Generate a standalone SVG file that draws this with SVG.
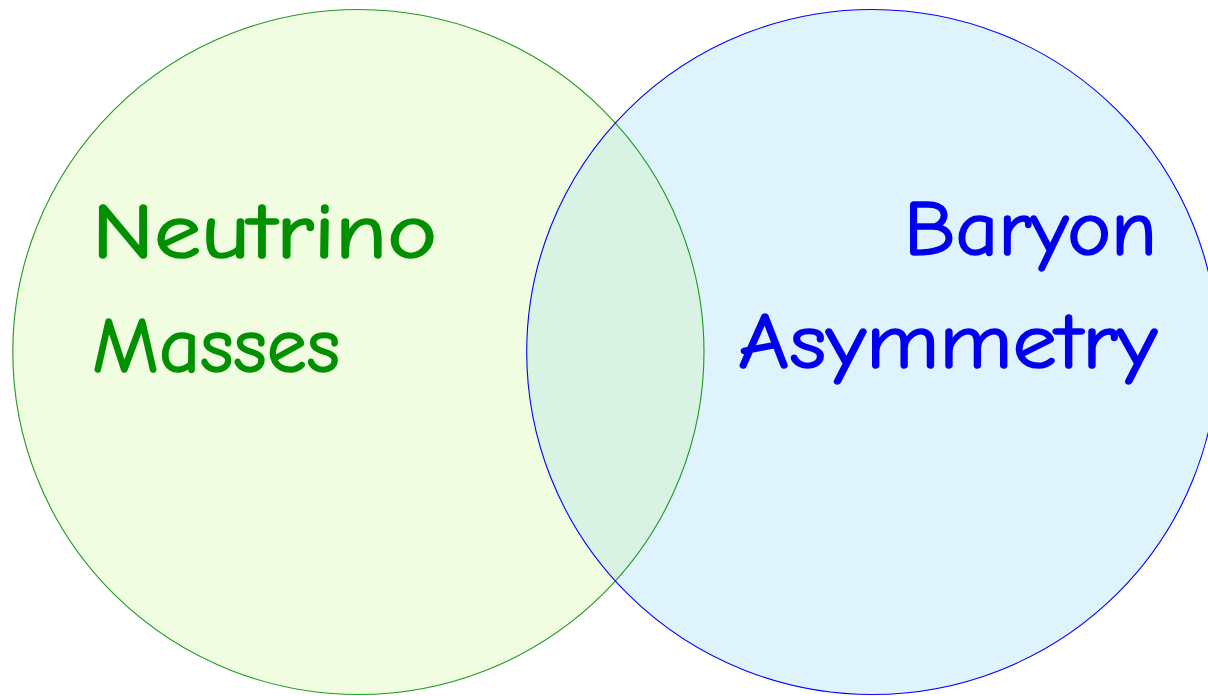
<svg xmlns="http://www.w3.org/2000/svg" width="1208" height="696" viewBox="0 0 1208 696">
<style>
.lbl{font-family:"Comic Sans MS","Comic Neue","DejaVu Sans",sans-serif;font-size:78px;font-weight:normal;stroke-width:1.6;stroke-linejoin:round;}
.g{fill:#009000;stroke:#009000;}
.b{fill:#0000ee;stroke:#0000ee;}
</style>
<defs>
<clipPath id="clipL"><ellipse cx="358.4" cy="352" rx="345.6" ry="342.5"/></clipPath>
</defs>
<rect width="1208" height="696" fill="#ffffff"/>
<g id="left">
<ellipse cx="358.4" cy="352" rx="345.6" ry="342.5" fill="#f0fde0"/>
</g>
<g id="right">
<ellipse cx="872.3" cy="352" rx="345.6" ry="342.5" fill="#dff3fd"/>
</g>
<g id="overlap">
<ellipse cx="872.3" cy="352" rx="345.6" ry="342.5" fill="#d8f2e4" clip-path="url(#clipL)"/>
</g>
<g id="outlines" fill="none" stroke-width="1.1">
<ellipse cx="358.4" cy="352" rx="345.6" ry="342.5" stroke="#1f9a1f"/>
<ellipse cx="872.3" cy="352" rx="345.6" ry="342.5" stroke="#0000ff"/>
</g>
<g id="label-left">
<text class="lbl g" x="92" y="258" textLength="345" lengthAdjust="spacingAndGlyphs">Neutrino</text>
<text class="lbl g" x="92" y="372" textLength="248" lengthAdjust="spacingAndGlyphs">Masses</text>
</g>
<g id="label-right">
<text class="lbl b" x="904" y="255" textLength="253" lengthAdjust="spacingAndGlyphs">Baryon</text>
<text class="lbl b" x="738" y="368" textLength="419" lengthAdjust="spacingAndGlyphs">Asymmetry</text>
</g>
</svg>
